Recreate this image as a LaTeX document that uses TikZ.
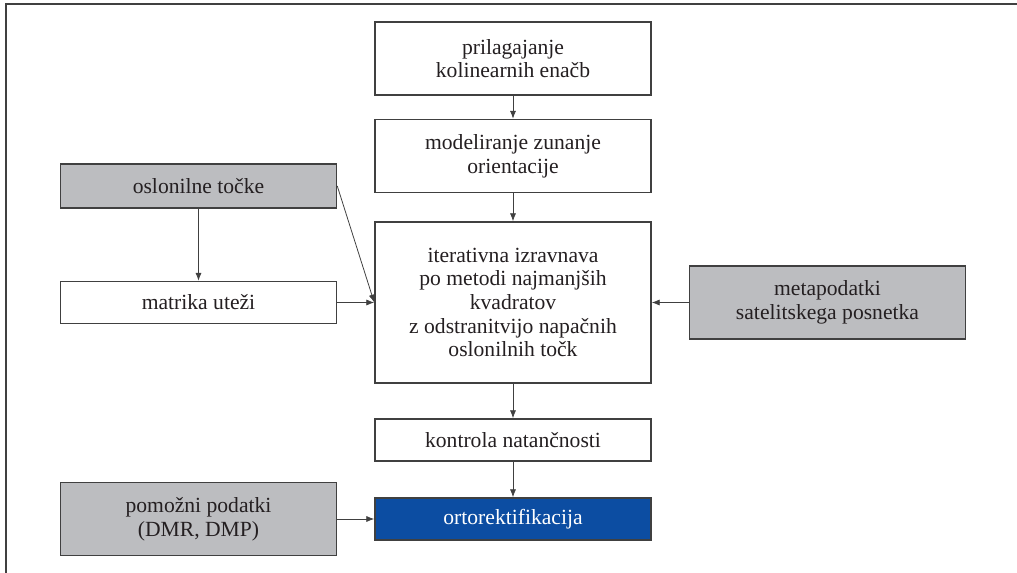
\documentclass[tikz,border=0pt]{standalone}
\usepackage{fontspec}
\setmainfont{Liberation Serif}
\usetikzlibrary{arrows.meta}
\definecolor{LineClr}{rgb}{0.25,0.25,0.25}
\definecolor{GreyClr}{rgb}{0.737,0.741,0.753}
\definecolor{BlueClr}{rgb}{0.047,0.302,0.635}
\definecolor{TextClr}{rgb}{0.14,0.12,0.13}

\begin{document}
\begin{tikzpicture}[x=0.02cm,y=-0.02cm,
  box/.style={draw=LineClr,line width=0.9pt,fill=white,text=TextClr,align=center,
    minimum width=5.52cm,inner sep=0pt,font=\fontsize{12.3}{13.5}\selectfont},
  tall/.style={box,minimum height=1.46cm},
  low/.style={box,minimum height=0.84cm},
  grey/.style={fill=GreyClr},
  link/.style={draw=LineClr,line width=0.45pt,-{Latex[length=4.5pt,width=3.5pt]}}]
\useasboundingbox (0,0) rectangle (1017,573);
\draw[LineClr,line width=0.7pt] (6,573) -- (6,4) -- (1017,4);

\node[tall] (prilag) at (513,58.5) {prilagajanje\\kolinearnih enačb};
\node[tall] (model) at (513,156) {modeliranje zunanje\\orientacije};
\node[box,minimum height=3.22cm] (iter) at (513,302.5) {iterativna izravnava\\po metodi najmanjših\\kvadratov\\z odstranitvijo napačnih\\oslonilnih točk};
\node[low] (kontr) at (513,440) {kontrola natančnosti};
\node[low,fill=BlueClr,text=white] (orto) at (513,519) {ortorektifikacija};

\node[low,grey,minimum height=0.88cm] (osl) at (198.5,186) {oslonilne točke};
\node[low] (utezi) at (198.5,302.5) {matrika uteži};
\node[tall,grey] (meta) at (827.5,302.5) {metapodatki\\satelitskega posnetka};
\node[tall,grey] (pomoz) at (198.5,519) {pomožni podatki\\(DMR, DMP)};

\draw[link] (prilag) -- (model);
\draw[link] (model) -- (iter);
\draw[link] (iter) -- (kontr);
\draw[link] (kontr) -- (orto);
\draw[link] (osl) -- (utezi);
\draw[link] (osl.east) -- (iter.west);
\draw[link] (utezi) -- (iter);
\draw[link] (meta) -- (iter);
\draw[link] (pomoz) -- (orto);

\end{tikzpicture}
\end{document}
